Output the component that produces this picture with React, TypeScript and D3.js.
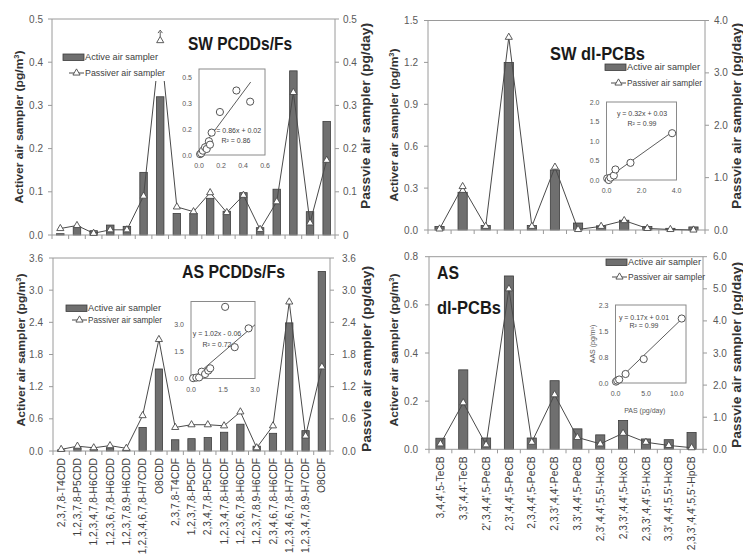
import React from 'react';
import * as d3 from 'd3';

// ---- categories ----
const pcddCats = ['2,3,7,8-T4CDD', '1,2,3,7,8-P5CDD', '1,2,3,4,7,8-H6CDD', '1,2,3,6,7,8-H6CDD', '1,2,3,7,8,9-H6CDD',
  '1,2,3,4,6,7,8-H7CDD', 'O8CDD', '2,3,7,8-T4CDF', '1,2,3,7,8-P5CDF', '2,3,4,7,8-P5CDF', '1,2,3,4,7,8-H6CDF',
  '1,2,3,6,7,8-H6CDF', '1,2,3,7,8,9-H6CDF', '2,3,4,6,7,8-H6CDF', '1,2,3,4,6,7,8-H7CDF', '1,2,3,4,7,8,9-H7CDF', 'O8CDF'];
const pcbCats = ["3,4,4',5-TeCB", "3,3',4,4'-TeCB", "2',3,4,4',5-PeCB", "2,3',4,4',5-PeCB", "2,3,4,4',5-PeCB",
  "2,3,3',4,4'-PeCB", "3,3',4,4',5-PeCB", "2,3',4,4',5,5'-HxCB", "2,3,3',4,4',5-HxCB", "2,3,3',4,4',5'-HxCB",
  "3,3',4,4',5,5'-HxCB", "2,3,3',4,4',5,5'-HpCB"];

// ---- SW PCDDs/Fs ----
const swPcddActive = [0.003, 0.019, 0.01, 0.023, 0.02, 0.145, 0.32, 0.05, 0.05, 0.085, 0.055, 0.098, 0.017, 0.106, 0.38, 0.054, 0.263];
const swPcddPassive = [0.015, 0.022, 0.004, 0.012, 0.012, 0.09, 0.45, 0.065, 0.054, 0.098, 0.052, 0.092, 0.013, 0.077, 0.33, 0.028, 0.173];
const swPcddInsetX = [0.01, 0.02, 0.035, 0.055, 0.07, 0.09, 0.1, 0.115, 0.19, 0.34, 0.465];
const swPcddInsetY = [0.005, 0.01, 0.025, 0.045, 0.035, 0.08, 0.06, 0.13, 0.25, 0.375, 0.31];

// ---- SW dl-PCBs ----
const swPcbActive = [0.025, 0.27, 0.032, 1.2, 0.032, 0.43, 0.05, 0.03, 0.07, 0.025, 0.012, 0.022];
const swPcbPassive = [0.02, 0.83, 0.07, 3.68, 0.07, 1.2, 0.01, 0.07, 0.18, 0.03, 0.01, 0.0];
const swPcbInsetX = [0.04, 0.13, 0.23, 0.42, 0.51, 1.37, 3.75];
const swPcbInsetY = [0.04, 0.0, 0.06, 0.115, 0.27, 0.44, 1.2];

// ---- AS PCDDs/Fs ----
const asPcddActive = [0.02, 0.06, 0.03, 0.06, 0.02, 0.44, 1.53, 0.21, 0.23, 0.25, 0.35, 0.5, 0.09, 0.33, 2.39, 0.38, 3.35];
const asPcddPassive = [0.03, 0.09, 0.06, 0.1, 0.05, 0.66, 2.08, 0.44, 0.49, 0.49, 0.47, 0.73, 0.06, 0.47, 2.78, 0.28, 1.57];
const asPcddInsetX = [0.1, 0.25, 0.38, 0.5, 0.66, 0.81, 0.9, 1.6, 2.05, 2.7];
const asPcddInsetY = [0.02, 0.05, 0.06, 0.38, 0.25, 0.44, 0.57, 4.0, 1.75, 2.8];

// ---- AS dl-PCBs ----
const asPcbActive = [0.046, 0.33, 0.047, 0.72, 0.047, 0.285, 0.085, 0.06, 0.12, 0.043, 0.04, 0.07];
const asPcbPassive = [0.17, 1.45, 0.14, 5.0, 0.22, 1.7, 0.37, 0.17, 0.5, 0.22, 0.12, 0.05];
const asPcbInsetX = [0.08, 0.28, 0.6, 1.64, 4.6, 10.8];
const asPcbInsetY = [0.04, 0.07, 0.1, 0.26, 0.69, 1.86];

// ---- tick labels ----
const swPcddLeftTicks = [0, 0.1, 0.2, 0.3, 0.4, 0.5];
const swPcddRightLabels = ['0', '0.1', '0.2', '0.3', '0.4', '0.5'];
const swPcbLeftTicks = [0, 0.3, 0.6, 0.9, 1.2, 1.5];
const swPcbRightTicks = [0, 1, 2, 3, 4];
const asPcddTicks = [0, 0.6, 1.2, 1.8, 2.4, 3.0, 3.6];
const asPcbLeftTicks = [0, 0.2, 0.4, 0.6, 0.8];
const asPcbRightTicks = [0, 1, 2, 3, 4, 5, 6];

const FONT = "'Liberation Sans', Arial, sans-serif";
const AXIS = '#9a9a9a';
const TXT = '#595959';
const BAR = '#6f6f6f';
const BAR_EDGE = '#3c3c3c';
const LINE = '#4a4a4a';

const f1 = (v: number) => v.toFixed(1);

const tri = d3.symbol().type(d3.symbolTriangle).size(22)() as string;

function Inset({ s }: { s: any }) {
  const ix = d3.scaleLinear().domain(s.xDomain).range([s.x0, s.x1]);
  const iy = d3.scaleLinear().domain(s.yDomain).range([s.y1, s.y0]);
  const fit = d3.line<number>().x(v => ix(v)).y(v => iy(s.slope * v + s.intercept));
  return (
    <g>
      <rect x={s.x0} y={s.y0} width={s.x1 - s.x0} height={s.y1 - s.y0} fill="#fff" stroke="#8a8a8a" strokeWidth={1} />
      {s.yTicks.map((t: number, i: number) => (
        <text key={'y' + i} x={s.x0 - 7} y={iy(t) + 2.5} fontSize={7} fill={TXT} textAnchor="end" fontFamily={FONT}>{s.yLabels[i]}</text>
      ))}
      {s.xTicks.map((t: number, i: number) => (
        <text key={'x' + i} x={ix(t)} y={s.y1 + 13} fontSize={7} fill={TXT} textAnchor="middle" fontFamily={FONT}>{s.xLabels[i]}</text>
      ))}
      <path d={fit(s.fitX) as string} fill="none" stroke={LINE} strokeWidth={0.9} />
      <text x={s.eqX} y={s.eqY} fontSize={7} fill="#444" textAnchor="middle" fontFamily={FONT}>{s.eq}</text>
      <text x={s.eqX} y={s.eqY + s.eqGap} fontSize={7} fill="#444" textAnchor="middle" fontFamily={FONT}>{s.r2}</text>
      {s.px.map((v: number, i: number) => (
        <circle key={i} cx={ix(v)} cy={iy(s.py[i])} r={3.6} fill="#fff" stroke="#555" strokeWidth={1} />
      ))}
      {s.xTitle && (
        <text x={(s.x0 + s.x1) / 2 - 6} y={s.y1 + 30} fontSize={7} fill={TXT} textAnchor="middle" fontFamily={FONT}>{s.xTitle}</text>
      )}
      {s.yTitle && (
        <text transform={`translate(${s.x0 - 21},${(s.y0 + s.y1) / 2}) rotate(-90)`} fontSize={7} fill={TXT} textAnchor="middle" fontFamily={FONT}>{s.yTitle}</text>
      )}
    </g>
  );
}

function Panel({ c }: { c: any }) {
  const { x0, x1, yTop, yBot } = c;
  const x = d3.scaleBand<string>().domain(c.cats).range([x0, x1]);
  const yL = d3.scaleLinear().domain([0, c.leftMax]).range([yBot, yTop]);
  const yR = d3.scaleLinear().domain([0, c.rightMax]).range([yBot, yTop]);
  const cx = (i: number) => (x(c.cats[i]) as number) + x.bandwidth() / 2;
  const bw = x.bandwidth() * c.barFrac;
  const line = d3.line<number>().x((_, i) => cx(i)).y(v => yR(v));
  const bounds = c.cats.map((k: string) => x(k) as number).concat([x1]);
  const ay = c.arrowAt !== undefined ? yR(c.passive[c.arrowAt]) : 0;
  const ax = c.arrowAt !== undefined ? cx(c.arrowAt) : 0;

  return (
    <g>
      {/* bars */}
      {c.active.map((v: number, i: number) => (
        <rect key={i} x={cx(i) - bw / 2} y={yL(v)} width={bw} height={yBot - yL(v)} fill={BAR} stroke={BAR_EDGE} strokeWidth={0.8} />
      ))}
      {/* frame */}
      <path d={`M${x0},${yBot}V${yTop}H${x1}V${yBot}`} fill="none" stroke={AXIS} strokeWidth={1} />
      <line x1={x0} x2={x1} y1={yBot} y2={yBot} stroke={AXIS} strokeWidth={1} />
      {bounds.map((b: number, i: number) => (
        <line key={'xt' + i} x1={b} x2={b} y1={yBot} y2={yBot + 4} stroke={AXIS} />
      ))}
      {/* left axis */}
      {c.leftTicks.map((t: number, i: number) => (
        <g key={'lt' + i}>
          <line x1={x0 - 4} x2={x0} y1={yL(t)} y2={yL(t)} stroke={AXIS} />
          <text x={c.leftLabelX} y={yL(t) + 3.5} fontSize={10} fill={TXT} textAnchor="end" fontFamily={FONT}>{f1(t)}</text>
        </g>
      ))}
      {/* right axis */}
      {c.rightTicks.map((t: number, i: number) => (
        <g key={'rt' + i}>
          <line x1={x1} x2={x1 + 4} y1={yR(t)} y2={yR(t)} stroke={AXIS} />
          <text x={c.rightLabelX} y={yR(t) + 3.5} fontSize={10} fill={TXT} textAnchor="start" fontFamily={FONT}>{c.rightLabels[i]}</text>
        </g>
      ))}
      {/* axis titles */}
      <text transform={`translate(${c.leftTitle[0]},${c.leftTitle[1]}) rotate(-90)`} textAnchor="middle" fontSize={11.5} fontWeight="bold"
        fill="#333" fontFamily={FONT} textLength={153} lengthAdjust="spacingAndGlyphs">
        Activer air sampler (pg/m<tspan fontSize={7} dy={-4}>3</tspan><tspan dy={4}>)</tspan>
      </text>
      <text transform={`translate(${c.rightTitle[0]},${c.rightTitle[1]}) rotate(-90)`} textAnchor="middle" fontSize={12.5} fontWeight="bold"
        fill="#333" fontFamily={FONT} textLength={186} lengthAdjust="spacingAndGlyphs">
        Passvie air sampler (pg/day)
      </text>
      {/* passive line */}
      <path d={line(c.passive) as string} fill="none" stroke={LINE} strokeWidth={1} />
      {/* legend */}
      {c.legendBg && <rect x={c.legendBg[0]} y={c.legendBg[1]} width={c.legendBg[2]} height={c.legendBg[3]} fill="#fff" />}
      <rect x={c.legend[0]} y={c.legend[1] - 3} width={21} height={6.5} fill={BAR} stroke={BAR_EDGE} strokeWidth={0.8} />
      <text x={c.legend[0] + 22} y={c.legend[1] + 3.3} fontSize={8.8} fill="#404040" fontFamily={FONT}
        textLength={73} lengthAdjust="spacingAndGlyphs">Active air sampler</text>
      <line x1={c.legend[0] + 6} x2={c.legend[0] + 21} y1={c.legend[2]} y2={c.legend[2]} stroke={LINE} />
      <path d={tri} transform={`translate(${c.legend[0] + 13.5},${c.legend[2]})`} fill="#fff" stroke={LINE} strokeWidth={0.9} />
      <text x={c.legend[0] + 22} y={c.legend[2] + 3.3} fontSize={8.8} fill="#404040" fontFamily={FONT}
        textLength={c.legendLen} lengthAdjust="spacingAndGlyphs">Passiver air sampler</text>
      {/* markers */}
      {c.passive.map((v: number, i: number) => (
        <path key={'m' + i} d={tri} transform={`translate(${cx(i)},${yR(v)})`} fill="#fff" stroke={LINE} strokeWidth={0.9} />
      ))}
      {c.arrowAt !== undefined && (
        <path d={`M${ax},${ay - 4}V${ay - 9}M${ax - 2.2},${ay - 7.5}L${ax},${ay - 10.5}L${ax + 2.2},${ay - 7.5}`}
          fill="none" stroke={LINE} strokeWidth={0.9} />
      )}
      {/* title */}
      {c.title.map((t: any, i: number) => (
        <text key={'t' + i} x={t[1]} y={t[2]} fontSize={19} fontWeight="bold" fill="#1a1a1a" fontFamily={FONT}
          textLength={t[3]} lengthAdjust="spacingAndGlyphs">{t[0]}</text>
      ))}
      <Inset s={c.inset} />
      {/* category labels */}
      {c.showCats && c.cats.map((k: string, i: number) => (
        <text key={'c' + i} transform={`translate(${cx(i) + 3.6},${yBot + 7}) rotate(-90)`} textAnchor="end" fontSize={10.3}
          fill="#404040" fontFamily={FONT}>{k}</text>
      ))}
    </g>
  );
}

const panels = [
  {
    x0: 52, x1: 335, yTop: 19, yBot: 235, cats: pcddCats, active: swPcddActive, passive: swPcddPassive,
    leftMax: 0.5, rightMax: 0.5, leftTicks: swPcddLeftTicks, rightTicks: swPcddLeftTicks, rightLabels: swPcddRightLabels,
    leftLabelX: 43, rightLabelX: 343, barFrac: 0.45, leftTitle: [23, 127], rightTitle: [370, 116],
    legend: [63, 57, 73], legendLen: 80, legendBg: [61, 30, 109, 51], arrowAt: 6, showCats: false,
    title: [['SW PCDDs/Fs', 188, 50, 104]],
    inset: {
      x0: 199, x1: 265, y0: 69, y1: 155, xDomain: [0, 0.6], yDomain: [0, 0.5],
      xTicks: [0, 0.2, 0.4, 0.6], xLabels: ['0.0', '0.2', '0.4', '0.6'],
      yTicks: [0, 0.15, 0.3, 0.45], yLabels: ['0.0', '0.2', '0.3', '0.5'],
      px: swPcddInsetX, py: swPcddInsetY, slope: 0.86, intercept: 0.02, fitX: [0, 0.47],
      eq: 'y = 0.86x + 0.02', r2: 'R² = 0.86', eqX: 236, eqY: 133, eqGap: 9.5,
    },
  },
  {
    x0: 428, x1: 705, yTop: 20.5, yBot: 230, cats: pcbCats, active: swPcbActive, passive: swPcbPassive,
    leftMax: 1.5, rightMax: 4, leftTicks: swPcbLeftTicks, rightTicks: swPcbRightTicks, rightLabels: swPcbRightTicks.map(f1),
    leftLabelX: 418, rightLabelX: 714, barFrac: 0.4, leftTitle: [398, 125], rightTitle: [741, 116],
    legend: [605, 67, 83], legendLen: 75, showCats: false,
    title: [['SW dl-PCBs', 550, 60, 95]],
    inset: {
      x0: 606.5, x1: 676.5, y0: 102, y1: 180, xDomain: [0, 4], yDomain: [0, 2],
      xTicks: [0, 2, 4], xLabels: ['0.0', '2.0', '4.0'],
      yTicks: [0, 0.5, 1, 1.5, 2], yLabels: ['0.0', '0.5', '1.0', '1.5', '2.0'],
      px: swPcbInsetX, py: swPcbInsetY, slope: 0.32, intercept: 0.03, fitX: [0, 3.75],
      eq: 'y = 0.32x + 0.03', r2: 'R² = 0.99', eqX: 642, eqY: 115.5, eqGap: 10,
    },
  },
  {
    x0: 53, x1: 330, yTop: 258, yBot: 451, cats: pcddCats, active: asPcddActive, passive: asPcddPassive,
    leftMax: 3.6, rightMax: 3.6, leftTicks: asPcddTicks, rightTicks: asPcddTicks, rightLabels: asPcddTicks.map(f1),
    leftLabelX: 43, rightLabelX: 342, barFrac: 0.45, leftTitle: [25, 350], rightTitle: [371, 359],
    legend: [66, 308, 320], legendLen: 74, showCats: true,
    title: [['AS PCDDs/Fs', 182, 278, 103]],
    inset: {
      x0: 191, x1: 255, y0: 301.5, y1: 378.5, xDomain: [0, 3], yDomain: [0, 4.3],
      xTicks: [0, 1.5, 3], xLabels: ['0.0', '1.5', '3.0'],
      yTicks: [0, 1.5, 3], yLabels: ['0.0', '1.5', '3.0'],
      px: asPcddInsetX, py: asPcddInsetY, slope: 1.02, intercept: -0.06, fitX: [0.06, 3.0],
      eq: 'y = 1.02x - 0.06', r2: 'R² = 0.72', eqX: 217, eqY: 336, eqGap: 11,
    },
  },
  {
    x0: 429, x1: 703, yTop: 256.7, yBot: 449.3, cats: pcbCats, active: asPcbActive, passive: asPcbPassive,
    leftMax: 0.8, rightMax: 6, leftTicks: asPcbLeftTicks, rightTicks: asPcbRightTicks, rightLabels: asPcbRightTicks.map(f1),
    leftLabelX: 418, rightLabelX: 713, barFrac: 0.4, leftTitle: [398, 350], rightTitle: [741, 355],
    legend: [606, 262, 277], legendLen: 77, showCats: true,
    title: [['AS', 437, 279, 22], ['dl-PCBs', 437, 314, 64]],
    inset: {
      x0: 615.5, x1: 686, y0: 305, y1: 383, xDomain: [0, 11.5], yDomain: [0, 2.25],
      xTicks: [0, 5, 10], xLabels: ['0.0', '5.0', '10.0'],
      yTicks: [0, 0.75, 1.5, 2.25], yLabels: ['0.0', '0.8', '1.5', '2.3'],
      px: asPcbInsetX, py: asPcbInsetY, slope: 0.17, intercept: 0.01, fitX: [0, 10.8],
      eq: 'y = 0.17x + 0.01', r2: 'R² = 0.99', eqX: 644, eqY: 320, eqGap: 8,
      xTitle: 'PAS (pg/day)', yTitle: 'AAS (pg/m³)',
    },
  },
];

export default function App() {
  return (
    <svg width={743} height={555} style={{ position: 'absolute', left: 0, top: 0, display: 'block' }}>
      <rect width={743} height={555} fill="#fff" />
      {panels.map((p, i) => <Panel key={i} c={p} />)}
    </svg>
  );
}
